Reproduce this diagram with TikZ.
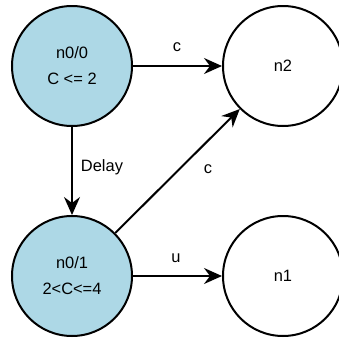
\documentclass[tikz,border=0pt]{standalone}
\usepackage{fontspec}
\setmainfont{Liberation Sans}
\usetikzlibrary{arrows.meta}
\definecolor{stateblue}{HTML}{ADD8E6}
\begin{document}
\begin{tikzpicture}[x=1bp,y=-1bp,
  state/.style={circle,draw=black,line width=2bp,minimum size=120bp,inner sep=0pt,
    font=\fontsize{16.5}{26}\selectfont,align=center},
  initstate/.style={state,fill=stateblue},
  edge/.style={draw,line width=2bp,-{Stealth[length=18bp,width=16bp,inset=6bp]}},
  lab/.style={font=\fontsize{16.5}{20}\selectfont,inner sep=0pt}]
\useasboundingbox (0,0) rectangle (339,339);
\node[initstate] (n00) at (72,66) {n0/0\\C <= 2};
\node[state] (n2) at (283,66) {n2};
\node[initstate] (n01) at (72,276) {n0/1\\2<C<=4};
\node[state] (n1) at (283,276) {n1};
\draw[edge] (n00) -- (n2);
\draw[edge] (n00) -- (n01);
\draw[edge] (n01) -- (n2);
\draw[edge] (n01) -- (n1);
\node[lab] (lc1) at (177,47) {c};
\node[lab] (ldelay) at (102,167) {Delay};
\node[lab] (lc2) at (208,169) {c};
\node[lab] (lu) at (176,258) {u};
\end{tikzpicture}
\end{document}
